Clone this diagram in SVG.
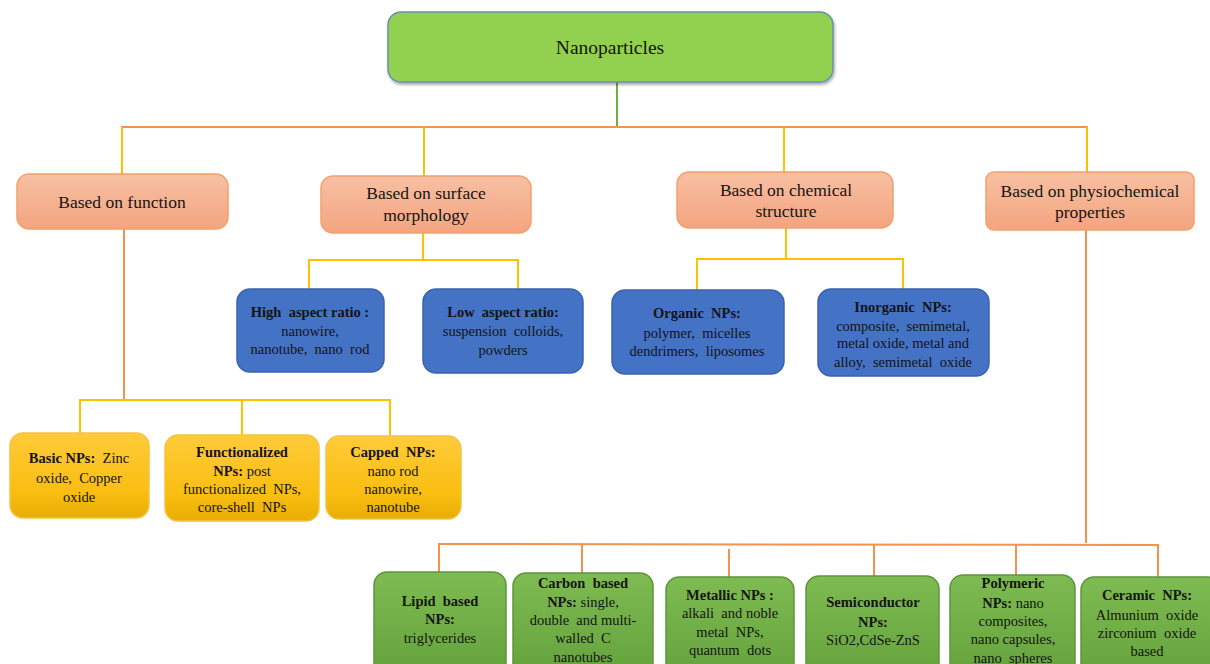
<svg xmlns="http://www.w3.org/2000/svg" width="1210" height="664" viewBox="0 0 1210 664">
<defs>
<linearGradient id="gSal" x1="0" y1="0" x2="0" y2="1"><stop offset="0" stop-color="#F7C0A3"/><stop offset="1" stop-color="#F4A47F"/></linearGradient>
<linearGradient id="gYel" x1="0" y1="0" x2="0" y2="1"><stop offset="0" stop-color="#FFCB3A"/><stop offset="0.7" stop-color="#F9BE10"/><stop offset="1" stop-color="#E6AD05"/></linearGradient>
<linearGradient id="gGrn" x1="0" y1="0" x2="0" y2="1"><stop offset="0" stop-color="#7EBB52"/><stop offset="1" stop-color="#62A03A"/></linearGradient>
<filter id="sh" x="-5%" y="-10%" width="110%" height="130%"><feDropShadow dx="1" dy="2" stdDeviation="1.5" flood-color="#000" flood-opacity="0.35"/></filter>
</defs>
<style>
text{font-family:"Liberation Serif","Times New Roman",serif;fill:#141414;text-anchor:middle;white-space:pre}
.t18{font-size:19.5px}
.t17{font-size:17.5px}
.t14{font-size:14.5px}
.b{font-weight:bold}
.top{fill:#92D050;stroke:#6E8FAE;stroke-width:1.5}
.sal{fill:url(#gSal);stroke:#F3A06C;stroke-width:1.5}
.blu{fill:#4472C4;stroke:#3A63AC;stroke-width:1.5}
.yel{fill:url(#gYel);stroke:#F5C242;stroke-width:1.5}
.grn{fill:url(#gGrn);stroke:#5E963A;stroke-width:1.5}
.lo{stroke:#F4924F;stroke-width:2;fill:none}
.ly{stroke:#FFC000;stroke-width:2;fill:none}
.lg{stroke:#70AD47;stroke-width:2;fill:none}
</style>
<g id="connectors">
<line class="lg" x1="617" y1="82" x2="617" y2="127"/>
<line class="lo" x1="121" y1="127" x2="1088" y2="127"/>
<line class="ly" x1="122" y1="127" x2="122" y2="174"/>
<line class="ly" x1="424" y1="127" x2="424" y2="176"/>
<line class="ly" x1="784" y1="127" x2="784" y2="172"/>
<line class="ly" x1="1087" y1="127" x2="1087" y2="173"/>
<line class="ly" x1="423" y1="233" x2="423" y2="260"/>
<polyline class="ly" points="309,289 309,260 518,260 518,289"/>
<line class="ly" x1="786" y1="228" x2="786" y2="259"/>
<polyline class="ly" points="697,290 697,259 903,259 903,289"/>
<line class="lo" x1="124" y1="229" x2="124" y2="400"/>
<polyline class="ly" points="80,433 80,400 390,400 390,436"/>
<line class="ly" x1="242" y1="400" x2="242" y2="435"/>
<line class="lo" x1="1086" y1="230" x2="1086" y2="543"/>
<polyline class="lo" points="439,572 439,544 1158,545 1158,577"/>
<line class="lo" x1="582" y1="544" x2="582" y2="573"/>
<line class="lo" x1="729" y1="549" x2="729" y2="577"/>
<line class="lo" x1="874" y1="545" x2="874" y2="576"/>
<line class="lo" x1="1016" y1="545" x2="1016" y2="575"/>
</g>
<g id="nanoparticles">
<rect class="top" x="388" y="12" width="445" height="70" rx="13" filter="url(#sh)"/>
<text class="t18" x="610" y="54">Nanoparticles</text>
</g>
<g id="based-on-function">
<rect class="sal" x="17" y="174" width="211" height="55" rx="12"/>
<text class="t17" x="122" y="208">Based on function</text>
</g>
<g id="based-on-surface-morphology">
<rect class="sal" x="321" y="176" width="210" height="57" rx="12"/>
<text class="t17" x="426" y="199">Based on surface</text>
<text class="t17" x="426" y="221">morphology</text>
</g>
<g id="based-on-chemical-structure">
<rect class="sal" x="677" y="172" width="216" height="56" rx="12"/>
<text class="t17" x="786" y="196">Based on chemical</text>
<text class="t17" x="786" y="217">structure</text>
</g>
<g id="based-on-physiochemical-properties">
<rect class="sal" x="986" y="172" width="208" height="58" rx="8"/>
<text class="t17" x="1090" y="197">Based on physiochemical</text>
<text class="t17" x="1090" y="218">properties</text>
</g>
<g id="high-aspect-ratio">
<rect class="blu" x="237" y="289" width="147" height="83" rx="13"/>
<text class="t14" x="310" y="317"><tspan class="b">High  aspect ratio :</tspan></text>
<text class="t14" x="310" y="336">nanowire,</text>
<text class="t14" x="310" y="354">nanotube,  nano  rod</text>
</g>
<g id="low-aspect-ratio">
<rect class="blu" x="423" y="289" width="160" height="84" rx="13"/>
<text class="t14" x="503" y="317"><tspan class="b">Low  aspect ratio:</tspan></text>
<text class="t14" x="503" y="336">suspension  colloids,</text>
<text class="t14" x="503" y="355">powders</text>
</g>
<g id="organic-nps">
<rect class="blu" x="612" y="290" width="172" height="84" rx="13"/>
<text class="t14" x="697" y="318"><tspan class="b">Organic  NPs:</tspan></text>
<text class="t14" x="697" y="338">polymer,  micelles</text>
<text class="t14" x="697" y="356">dendrimers,  liposomes</text>
</g>
<g id="inorganic-nps">
<rect class="blu" x="818" y="289" width="171" height="87" rx="13"/>
<text class="t14" x="903" y="312"><tspan class="b">Inorganic  NPs:</tspan></text>
<text class="t14" x="903" y="331">composite,  semimetal,</text>
<text class="t14" x="903" y="348">metal oxide, metal and</text>
<text class="t14" x="903" y="367">alloy,  semimetal  oxide</text>
</g>
<g id="basic-nps">
<rect class="yel" x="10" y="433" width="139" height="85" rx="13"/>
<text class="t14" x="79" y="463"><tspan class="b">Basic NPs:</tspan>  Zinc</text>
<text class="t14" x="79" y="483">oxide,  Copper</text>
<text class="t14" x="79" y="502">oxide</text>
</g>
<g id="functionalized-nps">
<rect class="yel" x="165" y="435" width="154" height="86" rx="13"/>
<text class="t14" x="242" y="457"><tspan class="b">Functionalized</tspan></text>
<text class="t14" x="242" y="476"><tspan class="b">NPs:</tspan> post</text>
<text class="t14" x="242" y="494">functionalized  NPs,</text>
<text class="t14" x="242" y="512">core-shell  NPs</text>
</g>
<g id="capped-nps">
<rect class="yel" x="326" y="436" width="135" height="83" rx="13"/>
<text class="t14" x="393" y="457"><tspan class="b">Capped  NPs:</tspan></text>
<text class="t14" x="393" y="476">nano rod</text>
<text class="t14" x="393" y="494">nanowire,</text>
<text class="t14" x="393" y="512">nanotube</text>
</g>
<g id="lipid-based-nps">
<rect class="grn" x="374" y="572" width="132" height="110" rx="13"/>
<text class="t14" x="440" y="606"><tspan class="b">Lipid  based</tspan></text>
<text class="t14" x="440" y="624"><tspan class="b">NPs:</tspan></text>
<text class="t14" x="440" y="643">triglycerides</text>
</g>
<g id="carbon-based-nps">
<rect class="grn" x="513" y="573" width="140" height="110" rx="13"/>
<text class="t14" x="583" y="588"><tspan class="b">Carbon  based</tspan></text>
<text class="t14" x="583" y="607"><tspan class="b">NPs:</tspan> single,</text>
<text class="t14" x="583" y="625">double  and multi-</text>
<text class="t14" x="583" y="643">walled  C</text>
<text class="t14" x="583" y="662">nanotubes</text>
</g>
<g id="metallic-nps">
<rect class="grn" x="666" y="577" width="128" height="110" rx="13"/>
<text class="t14" x="730" y="600"><tspan class="b">Metallic NPs :</tspan></text>
<text class="t14" x="730" y="618">alkali  and noble</text>
<text class="t14" x="730" y="637">metal  NPs,</text>
<text class="t14" x="730" y="655">quantum  dots</text>
</g>
<g id="semiconductor-nps">
<rect class="grn" x="806" y="576" width="133" height="110" rx="13"/>
<text class="t14" x="873" y="607"><tspan class="b">Semiconductor</tspan></text>
<text class="t14" x="873" y="627"><tspan class="b">NPs:</tspan></text>
<text class="t14" x="873" y="645">SiO2,CdSe-ZnS</text>
</g>
<g id="polymeric-nps">
<rect class="grn" x="950" y="575" width="125" height="110" rx="13"/>
<text class="t14" x="1013" y="588"><tspan class="b">Polymeric</tspan></text>
<text class="t14" x="1013" y="608"><tspan class="b">NPs:</tspan> nano</text>
<text class="t14" x="1013" y="626">composites,</text>
<text class="t14" x="1013" y="644">nano capsules,</text>
<text class="t14" x="1013" y="663">nano  spheres</text>
</g>
<g id="ceramic-nps">
<rect class="grn" x="1081" y="577" width="140" height="110" rx="13"/>
<text class="t14" x="1147" y="600"><tspan class="b">Ceramic  NPs:</tspan></text>
<text class="t14" x="1147" y="620">Almunium  oxide</text>
<text class="t14" x="1147" y="638">zirconium  oxide</text>
<text class="t14" x="1147" y="656">based</text>
</g>
</svg>
